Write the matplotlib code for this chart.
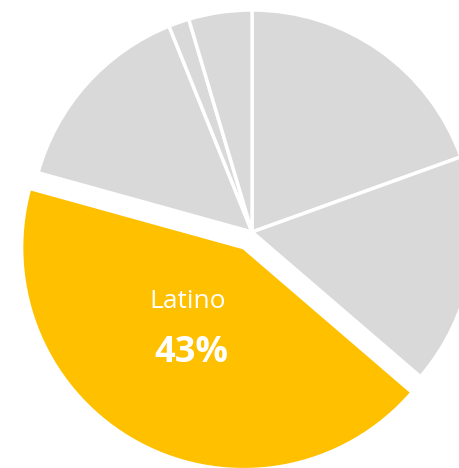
import matplotlib.pyplot as plt

# slices, clockwise from 12 o'clock
shares = [19.5, 16.8, 43.0, 14.6, 1.5, 4.6]
highlight = 2
highlight_name = 'Latino'
highlight_pct = '43%'

grey = '#D9D9D9'
gold = '#FFC000'
colors = [gold if i == highlight else grey for i in range(len(shares))]
explode = [0.08 if i == highlight else 0 for i in range(len(shares))]

fig = plt.figure(figsize=(4.59, 4.68), dpi=100)
ax = fig.add_axes([0, 0, 1, 1])
ax.pie(shares, colors=colors, explode=explode, startangle=90, counterclock=False,
       radius=1, wedgeprops={'edgecolor': 'white', 'linewidth': 2.5})

ax.text(-0.288, -0.312, highlight_name, color='white', fontsize=19,
        family='Open Sans', ha='center', va='center')
ax.text(-0.275, -0.545, highlight_pct, color='white', fontsize=26,
        family='Open Sans', fontweight='bold', ha='center', va='center')

ax.set_xlim(-1.135, 0.932)
ax.set_ylim(-1.063, 1.045)
ax.set_aspect('auto')
ax.axis('off')

fig.savefig('out.png', dpi=100)
